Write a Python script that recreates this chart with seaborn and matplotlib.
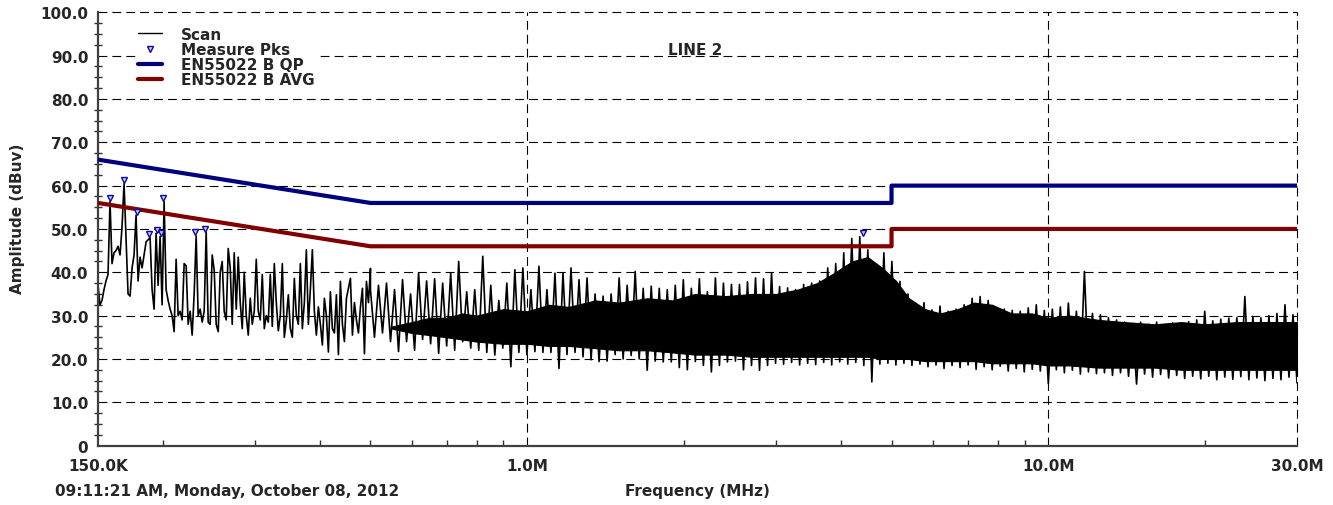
import numpy as np
import pandas as pd
import matplotlib
matplotlib.use("Agg")
import matplotlib.pyplot as plt
import matplotlib.transforms as mtransforms
from matplotlib.lines import Line2D
from matplotlib.ticker import FixedLocator, FixedFormatter, NullFormatter
import seaborn as sns

# ---------------- data ----------------
# sweep 1: 0.15 - 0.5 MHz, log-spaced sweep points, amplitude in dBuV
low_start_mhz, low_stop_mhz = 0.15, 0.5
low_dbuv = [
    37, 32.5, 33.5, 36, 38, 39.5, 56.3, 42, 44.5, 45,
    46, 44, 50.5, 60.5, 48, 35, 34.5, 41, 44, 53.2,
    38, 43.5, 41, 44, 47, 47.5, 48, 36, 31.5, 49,
    37, 48.3, 32.5, 56.3, 36, 33.5, 31.5, 30, 26.3, 43,
    30, 31, 29, 42, 41.5, 28, 31, 25.5, 35, 48.4,
    30, 31.5, 28.5, 31, 49.3, 28.5, 28, 44, 40.5, 28,
    26.3, 40, 42.5, 31, 29, 45.5, 41, 28, 44.5, 31.5,
    43.5, 33, 27, 40, 30, 25.5, 34, 28, 31, 43,
    31, 29, 39.5, 27, 30, 28.5, 39.5, 27.5, 42, 33,
    26.5, 30, 42, 25, 29, 34.8, 27, 25, 38.6, 30,
    28, 42, 27, 33, 45.2, 28, 36, 45.2, 31, 25.5,
    32, 28, 23.2, 34, 30, 21.6, 35.5, 27, 26, 34.8,
    21, 37.9, 28, 24, 34, 36.3, 38.6, 25.5, 33, 29,
    26, 32, 36.3, 21.2, 37.9, 33, 40.9,
]

# sweep 2: 0.5 - 30 MHz, alternating local peak / trough of the dense trace
high_start_mhz, high_stop_mhz = 0.5, 30.0
high_peak = [
    36, 37, 37.5, 36, 38.3, 35, 39.8, 38, 38.5, 37.5,
    39.8, 42.5, 35.5, 36, 43.7, 37, 33.5, 37.5, 40.6, 41,
    36, 41.4, 36, 39.8, 39.8, 41, 38.3, 38.7, 35, 34.5,
    35, 38.7, 37, 40.2, 36.3, 36.8, 36.3, 36, 37, 38.3,
    36.3, 38.5, 35.5, 38.7, 37.5, 37.2, 37.2, 37.8, 38.7, 38.5,
    39.8, 36.7, 36.4, 36, 37.2, 37.5, 38, 41, 42, 44.5,
    47.8, 48.2, 45.2, 41, 44.5, 42.5, 37.9, 35, 32.5, 33,
    31.3, 32.2, 31, 31.5, 32.5, 34, 34.4, 33.5, 31.7, 31.5,
    31.2, 31, 31.8, 32.5, 31.2, 31.5, 32, 32.9, 31, 40.2,
    30.5, 30.2, 29.5, 29, 28.5, 28.2, 28.5, 28, 28.5, 27.9,
    28.3, 28, 28.6, 29, 31, 28.8, 29.2, 29.4, 29.5, 34.4,
    29.8, 29.5, 30, 30.5, 32.5, 30.2,
]
high_trough = [
    25, 26, 24, 21.7, 24, 22, 24.5, 23.5, 21.3, 23,
    22, 24, 22.5, 22, 21.5, 20.9, 22.5, 18.2, 21.5, 21,
    21.7, 21.5, 21.5, 17.8, 21, 21.5, 20.5, 19.8, 19.4, 19.5,
    21, 20, 20.8, 20, 17.4, 19.5, 19.3, 19.3, 18, 17.5,
    19.4, 18.5, 17, 18.5, 19.3, 19.5, 17.5, 18.5, 17.4, 18.5,
    19, 18.8, 19.2, 18.6, 19, 18.7, 19.2, 18.6, 19.3, 18.8,
    19.2, 18.5, 14.7, 18.8, 19, 18.6, 19, 18.5, 18.8, 18.2,
    18.6, 17.8, 18.5, 18, 18.6, 17.6, 18.2, 17.5, 18.3, 17.2,
    17.8, 17, 17.6, 17.2, 14.3, 17.5, 16.8, 17.4, 16.5, 17,
    16.6, 16.8, 16.2, 16.8, 16, 14.2, 16.5, 15.8, 16.4, 15.6,
    16.2, 15.5, 16, 15.4, 16, 15.2, 15.8, 15.3, 15.9, 15.2,
    15.6, 15, 15.5, 15.2, 15.8, 14.5,
]

# solid core of the dense trace (upper / lower edge of the black band)
core_freq_mhz = [0.55, 0.6, 0.65, 0.7, 0.75, 0.8, 0.9, 1.0, 1.1, 1.2, 1.35,
                 1.5, 1.7, 1.9, 2.1, 2.4, 2.7, 3.0, 3.3, 3.6, 3.9, 4.2, 4.5,
                 4.8, 5.1, 5.4, 5.8, 6.2, 6.7, 7.2, 7.8, 8.5, 9.3, 10, 11,
                 12.5, 14, 16, 18, 20, 23, 26, 30]
core_top = [27.5, 28.5, 29.5, 29.5, 30.5, 30, 31.5, 31, 32.5, 32, 33.5,
            33, 34, 33.5, 35, 34.5, 35, 35, 36, 37.5, 40, 42.5, 43.5,
            41, 38, 34, 31.5, 30.5, 31.5, 33, 32.5, 30.5, 30.5, 29.5, 30,
            29, 28.5, 28, 28.5, 28, 28.5, 28.5, 28.5]
core_bottom = [27, 26, 25.5, 25, 24.5, 24, 23.5, 23.5, 23, 23, 22.5,
               22, 22, 21.5, 21, 21, 20.5, 20.5, 20.5, 20.5, 20.5, 20.5, 20.5,
               20, 20, 20, 19.5, 19.5, 19.5, 19.5, 19, 19, 19, 18.5, 18.5,
               18, 18, 18, 17.5, 17.5, 17.5, 17.5, 17.5]

# measured peaks
pk_freq_mhz = [0.1584, 0.1685, 0.1782, 0.1882, 0.1944, 0.1982, 0.2002,
               0.2303, 0.2407, 4.409]
pk_dbuv = [56.3, 60.5, 53.2, 48.0, 49.0, 48.3, 56.3, 48.4, 49.3, 48.2]

# EN55022 class B limit lines
limit_freq_mhz = [0.15, 0.5, 5.0, 5.0, 30.0]
qp_dbuv = [66, 56, 56, 60, 60]
avg_dbuv = [56, 46, 46, 50, 50]

y_ticks = [0, 10, 20, 30, 40, 50, 60, 70, 80, 90, 100]
y_tick_labels = ["0", "10.0", "20.0", "30.0", "40.0", "50.0", "60.0",
                 "70.0", "80.0", "90.0", "100.0"]
x_ticks = [0.15, 1.0, 10.0, 30.0]
x_tick_labels = ["150.0K", "1.0M", "10.0M", "30.0M"]
x_minor = [0.2, 0.3, 0.4, 0.5, 0.6, 0.7, 0.8, 0.9,
           2, 3, 4, 5, 6, 7, 8, 9, 20]

# ---------------- assemble scan ----------------
low_f = np.geomspace(low_start_mhz, low_stop_mhz, len(low_dbuv))
high_f = np.geomspace(high_start_mhz, high_stop_mhz, 2 * len(high_peak))
high_v = np.empty(2 * len(high_peak))
high_v[0::2] = high_peak
high_v[1::2] = high_trough
scan = pd.DataFrame({
    "freq": np.concatenate([low_f, high_f]),
    "dbuv": np.concatenate([np.asarray(low_dbuv, float), high_v]),
})
limits = pd.DataFrame({"freq": limit_freq_mhz, "qp": qp_dbuv, "avg": avg_dbuv})
peaks = pd.DataFrame({"freq": pk_freq_mhz, "dbuv": pk_dbuv})

# ---------------- figure ----------------
sns.set_theme(style="white")
plt.rcParams["font.family"] = ["DejaVu Sans"]
plt.rcParams["font.weight"] = "bold"

fig = plt.figure(figsize=(13.33, 5.06), dpi=100)
ax = fig.add_axes([98 / 1333, 1 - 446.6 / 506, 1199 / 1333, 433.3 / 506])
ax.set_xscale("log")
ax.set_xlim(0.15, 30)
ax.set_ylim(0, 100)

dash = (0, (8, 4.5))
for y in y_ticks[1:]:
    ax.axhline(y, color="black", lw=0.8, ls=dash, zorder=0.5, clip_on=False)
for x in [1.0, 10.0, 30.0]:
    ax.axvline(x, color="black", lw=0.8, ls=dash, zorder=0.5, clip_on=False)

ax.fill_between(core_freq_mhz, core_bottom, core_top, color="black", lw=0.8,
                edgecolor="black", zorder=2)
sns.lineplot(data=scan, x="freq", y="dbuv", sort=False, estimator=None,
             color="black", lw=1.2, ax=ax, zorder=2)
sns.lineplot(data=limits, x="freq", y="qp", sort=False, estimator=None,
             color="#00007f", lw=3.0, ax=ax, zorder=3)
sns.lineplot(data=limits, x="freq", y="avg", sort=False, estimator=None,
             color="#800000", lw=3.0, ax=ax, zorder=3)
off = mtransforms.offset_copy(ax.transData, fig=fig, y=2.5, units="points")
ax.plot(peaks["freq"], peaks["dbuv"], ls="none", marker="v", ms=4.5,
        mfc="#c8c8f0", mec="#0a0aa0", mew=1.0, transform=off, zorder=4)

# axes styling
for s in ["top", "right"]:
    ax.spines[s].set_visible(False)
for s in ["left", "bottom"]:
    ax.spines[s].set_color("#404040")
    ax.spines[s].set_linewidth(1.6)

ax.yaxis.set_major_locator(FixedLocator(y_ticks))
ax.yaxis.set_major_formatter(FixedFormatter(y_tick_labels))
ax.yaxis.set_minor_locator(FixedLocator(np.arange(0, 100.1, 2.5)))
ax.xaxis.set_major_locator(FixedLocator(x_ticks))
ax.xaxis.set_major_formatter(FixedFormatter(x_tick_labels))
ax.xaxis.set_minor_locator(FixedLocator(x_minor))
ax.xaxis.set_minor_formatter(NullFormatter())

ax.tick_params(axis="y", which="major", direction="inout", length=8, width=1.2,
               color="#303030", labelsize=11, pad=3)
ax.tick_params(axis="y", which="minor", direction="inout", length=6, width=1.0,
               color="#303030", left=True)
ax.tick_params(axis="x", which="major", direction="inout", length=8, width=1.2,
               color="#303030", labelsize=11, pad=5)
ax.tick_params(axis="x", which="minor", direction="in", length=4, width=1.0,
               color="#303030", bottom=True)
for lab in ax.get_xticklabels() + ax.get_yticklabels():
    lab.set_fontweight("bold")
ax.set_xlabel("")
ax.set_ylabel("")

# legend
handles = [
    Line2D([], [], color="black", lw=1.0),
    Line2D([], [], ls="none", marker="v", ms=4, mfc="#c8c8f0", mec="#0a0aa0", mew=1.0),
    Line2D([], [], color="#00007f", lw=3.0),
    Line2D([], [], color="#800000", lw=3.0),
]
labels = ["Scan", "Measure Pks", "EN55022 B QP", "EN55022 B AVG"]
leg = ax.legend(handles, labels, loc="upper left", bbox_to_anchor=(0.025, 0.99),
                frameon=True, facecolor="white", edgecolor="none", framealpha=1,
                fancybox=False, borderpad=0.15, handlelength=1.6, handletextpad=1.2,
                labelspacing=0.02, prop={"weight": "bold", "size": 11})
leg.set_zorder(5)

ax.text(2.1, 91.5, "LINE 2", ha="center", va="center", fontsize=11,
        fontweight="bold", zorder=6)

fig.text(18 / 1333, 1 - 219 / 506, "Amplitude (dBuv)", rotation=90, ha="center",
         va="center", fontsize=11, fontweight="bold")
fig.text(697 / 1333, 1 - 492 / 506, "Frequency (MHz)", ha="center", va="center",
         fontsize=11, fontweight="bold")
fig.text(55 / 1333, 1 - 492 / 506, "09:11:21 AM, Monday, October 08, 2012",
         ha="left", va="center", fontsize=11, fontweight="bold")

fig.savefig("out.png", dpi=100)
